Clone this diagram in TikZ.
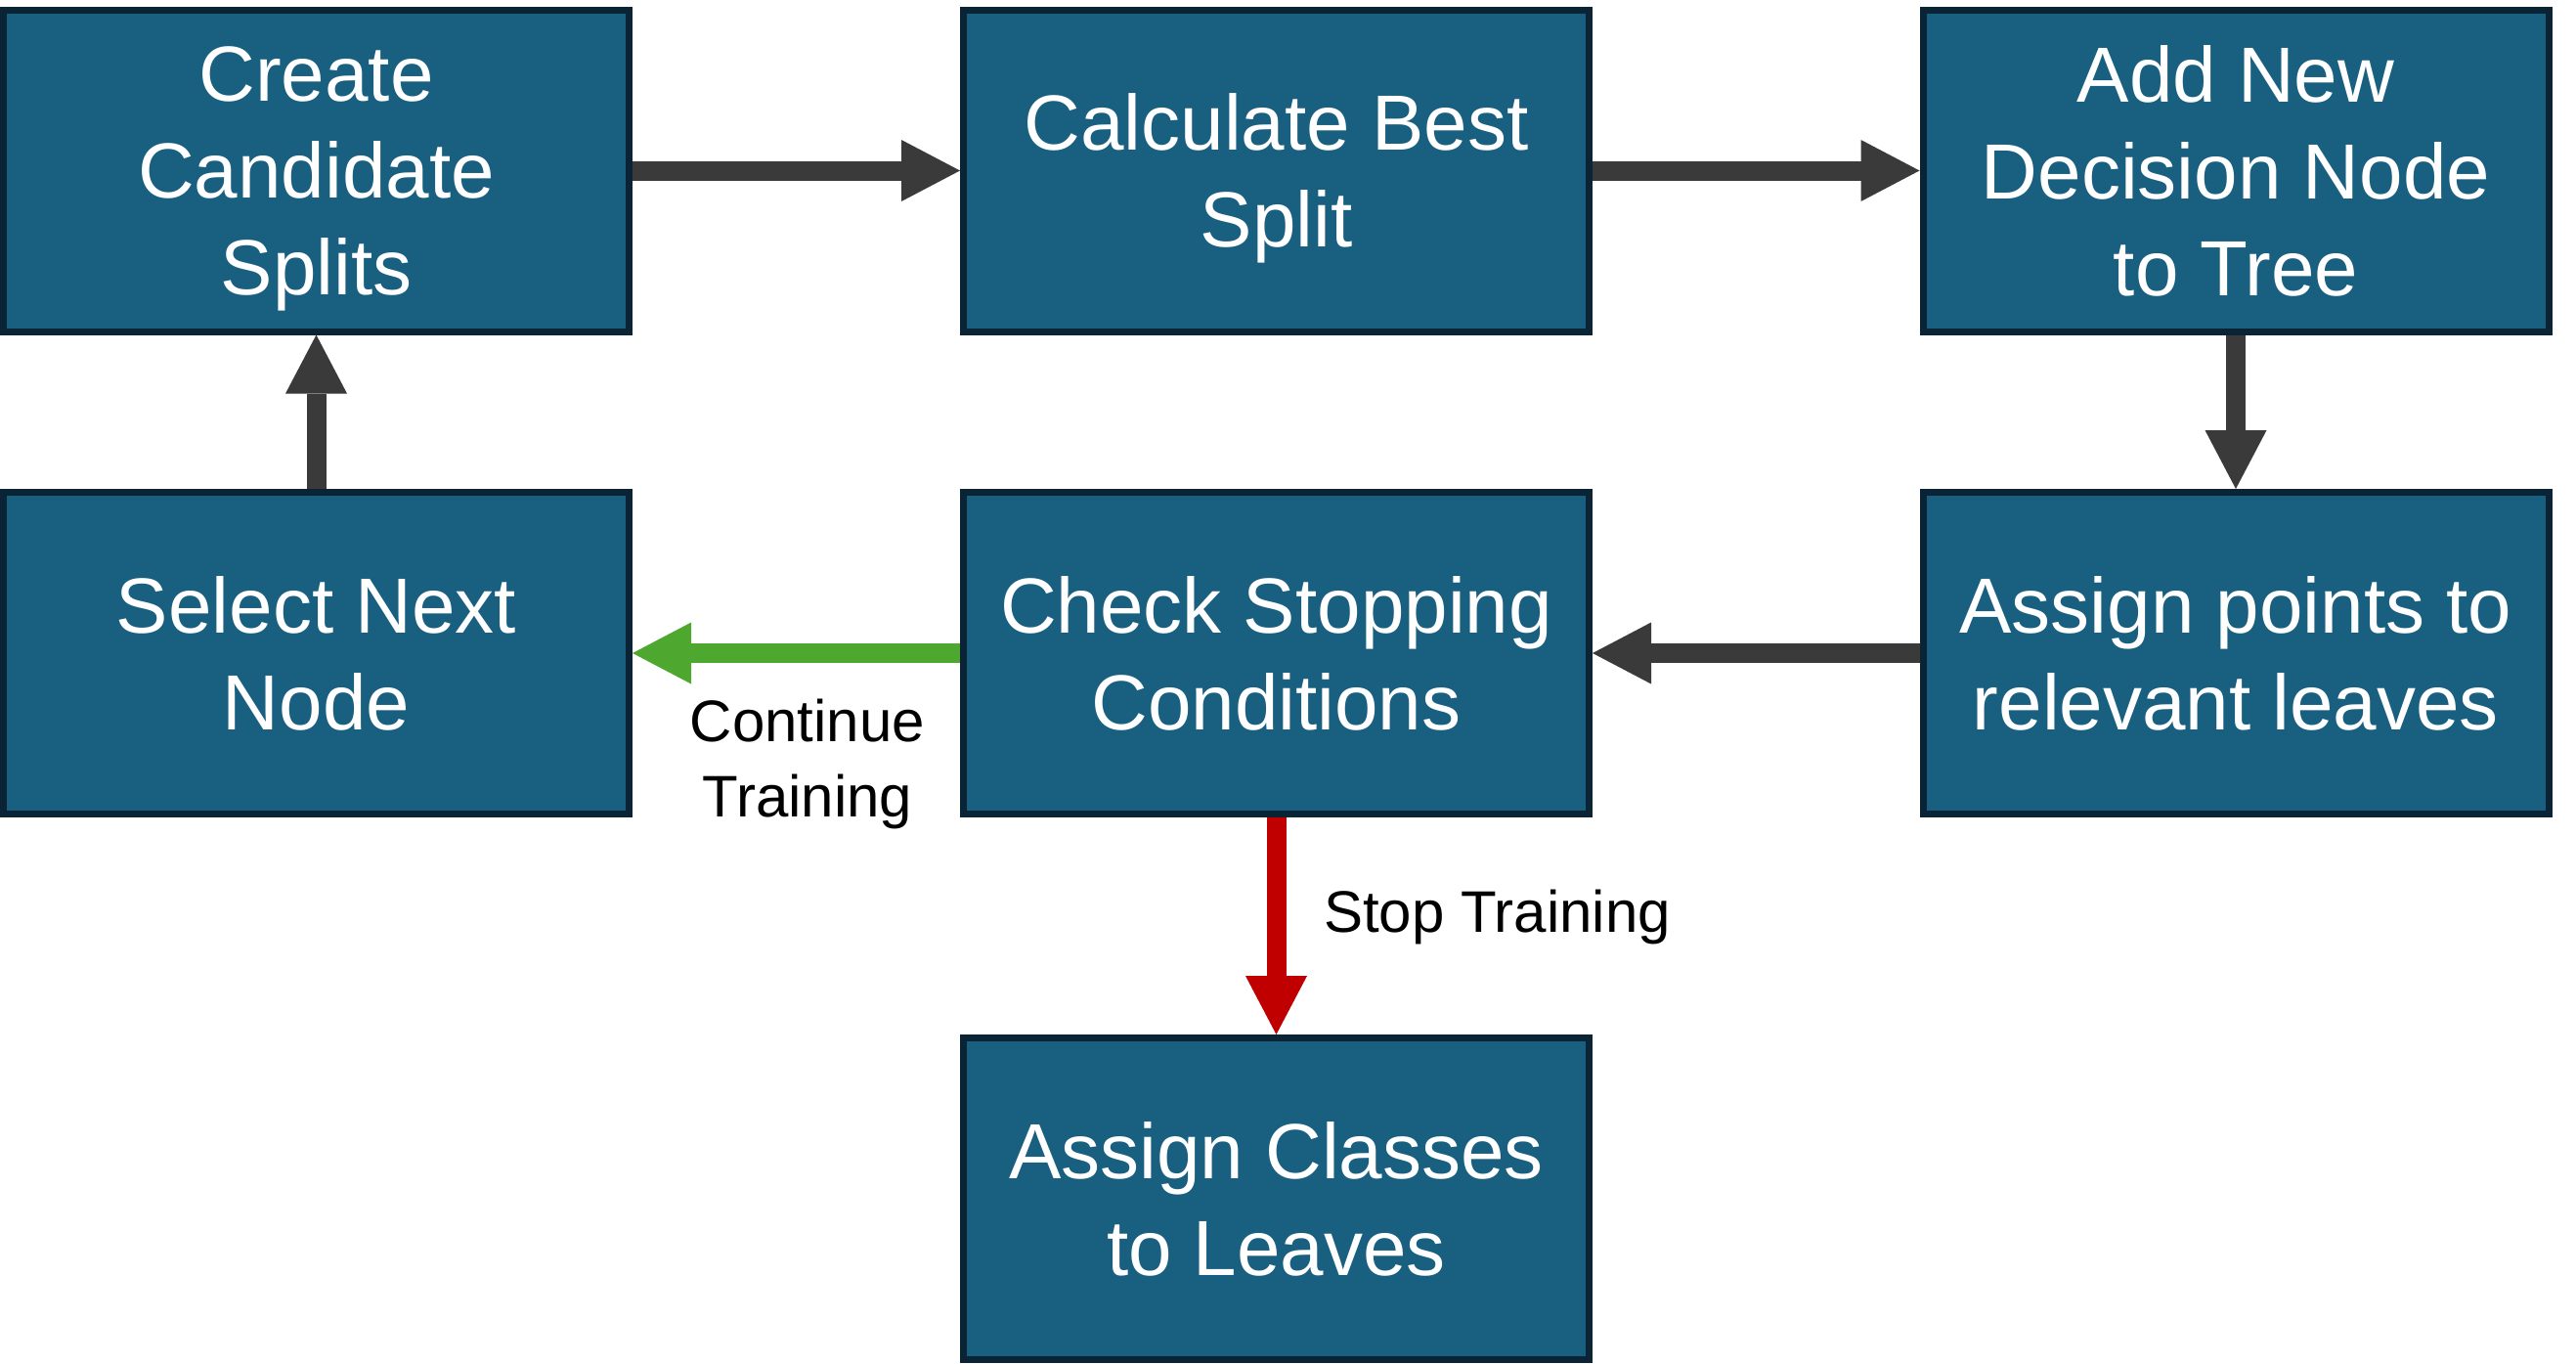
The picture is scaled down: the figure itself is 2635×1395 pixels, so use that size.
\documentclass[tikz,border=0pt]{standalone}
\usepackage{fontspec}
\setmainfont{Liberation Sans}
\usetikzlibrary{arrows.meta}
\definecolor{boxfill}{HTML}{185F80}
\definecolor{boxline}{HTML}{0A2435}
\definecolor{arrowgray}{HTML}{3A3A3A}
\definecolor{contgreen}{HTML}{4EA72E}
\definecolor{stopred}{HTML}{C00000}
\begin{document}
\begin{tikzpicture}[x=1pt,y=-1pt,
  stepbox/.style={draw=boxline, fill=boxfill, line width=7pt, minimum width=640pt, minimum height=329pt,
    inner sep=0pt, text=white, align=center, text depth=0pt, font=\fontsize{80}{99}\selectfont},
  flow/.style={line width=20pt, color=arrowgray, -{Triangle[length=60pt,width=63pt,line width=0pt]}},
  lbl/.style={font=\fontsize{60}{77}\selectfont, inner sep=0pt, align=center, text=black}]
\useasboundingbox (0,0) rectangle (2635,1395);
\node[stepbox] (create) at (323.5,174.5) {Create\\Candidate\\Splits};
\node[stepbox] (calc) at (1305.5,174.5) {Calculate Best\\Split};
\node[stepbox] (addnode) at (2287,174.5) {Add New\\Decision Node\\to Tree};
\node[stepbox] (select) at (323.5,668) {Select Next\\Node};
\node[stepbox] (check) at (1305.5,668) {Check Stopping\\Conditions};
\node[stepbox] (assignpts) at (2287,668) {Assign points to\\relevant leaves};
\node[stepbox] (classes) at (1305.5,1226) {Assign Classes\\to Leaves};
\draw[flow] (create.east) -- (calc.west);
\draw[flow] (calc.east) -- (addnode.west);
\draw[flow] (addnode.south) -- (assignpts.north);
\draw[flow] (assignpts.west) -- (check.east);
\draw[flow, color=contgreen] (check.west) -- (select.east);
\draw[flow, color=stopred] (check.south) -- (classes.north);
\draw[flow] (select.north) -- (create.south);
\node[lbl] (contlbl) at (826,781) {Continue\\Training};
\node[lbl, anchor=base west] (stoplbl) at (1354,953) {Stop Training};
\end{tikzpicture}
\end{document}
